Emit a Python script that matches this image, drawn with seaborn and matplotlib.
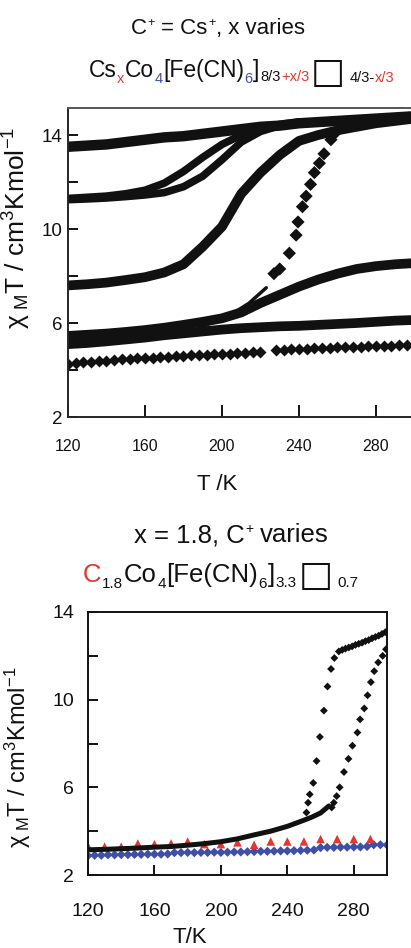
import numpy as np
import pandas as pd
import matplotlib
matplotlib.use("Agg")
import matplotlib.pyplot as plt
import seaborn as sns
from matplotlib import font_manager as fm


def has_font(name):
    try:
        fm.findfont(fm.FontProperties(family=name), fallback_to_default=False)
        return True
    except Exception:
        return False


NARROW = "Liberation Sans Narrow" if has_font("Liberation Sans Narrow") else "Liberation Sans"
REG = "Liberation Sans"

# ---------------- data: top panel (Cs_x, x varies) ----------------
T10 = [120, 130, 140, 150, 160, 170, 180, 190, 200, 210, 220, 230, 240, 250, 260, 270, 280, 290, 300]
curve_a = [13.5, 13.55, 13.6, 13.7, 13.8, 13.9, 13.95, 14.05, 14.15, 14.25, 14.35, 14.4, 14.5, 14.55,
           14.6, 14.65, 14.7, 14.75, 14.8]
T_b = [120, 130, 140, 150, 160, 170, 180, 190, 200, 210, 220, 230, 240]
curve_b_up = [11.3, 11.35, 11.4, 11.5, 11.65, 11.95, 12.45, 13.05, 13.6, 14.0, 14.3, 14.45, 14.55]
curve_b_dn = [11.25, 11.28, 11.32, 11.38, 11.45, 11.55, 11.8, 12.25, 12.95, 13.7, 14.15, 14.4, 14.55]
curve_c = [7.6, 7.65, 7.72, 7.83, 7.95, 8.15, 8.5, 9.25, 10.1, 11.5, 12.4, 13.15, 13.75, 14.0, 14.2,
           14.35, 14.5, 14.6, 14.7]
T_d_low = [190, 197, 205.5, 214, 223]
curve_d_low = [5.85, 6.1, 6.4, 6.84, 7.5]
T_d_high = [227, 230, 235, 238.5, 239.5, 241.8, 243.7, 246, 248, 250.6, 253, 256.6, 259]
curve_d_high = [8.1, 8.3, 8.97, 9.74, 10.3, 10.95, 11.4, 11.9, 12.4, 12.8, 13.2, 13.8, 14.1]
curve_e = [5.45, 5.5, 5.55, 5.62, 5.7, 5.8, 5.92, 6.05, 6.2, 6.45, 6.85, 7.2, 7.55, 7.85, 8.1, 8.3,
           8.42, 8.5, 8.55]
curve_f = [5.1, 5.15, 5.22, 5.3, 5.38, 5.48, 5.56, 5.64, 5.72, 5.78, 5.82, 5.86, 5.88, 5.92, 5.96,
           6.0, 6.05, 6.1, 6.13]
T_g1 = [120, 124, 128, 132, 136, 140, 144, 148, 152, 156, 160, 164, 168, 172, 176, 180, 184, 188,
        192, 196, 200, 204, 208, 212, 216, 220]
curve_g1 = [4.25, 4.3, 4.33, 4.35, 4.38, 4.4, 4.42, 4.45, 4.47, 4.5, 4.52, 4.53, 4.55, 4.57, 4.58,
            4.6, 4.62, 4.63, 4.65, 4.66, 4.68, 4.7, 4.71, 4.73, 4.75, 4.77]
T_g2 = [228, 232, 236, 240, 244, 248, 252, 256, 260, 264, 268, 272, 276, 280, 284, 288, 292, 296]
curve_g2 = [4.85, 4.86, 4.88, 4.89, 4.9, 4.92, 4.93, 4.95, 4.96, 4.97, 4.98, 5.0, 5.01, 5.02, 5.03,
            5.04, 5.05, 5.06]

# ---------------- data: bottom panel (x = 1.8, C varies) ----------------
T_k_low = [120, 130, 140, 150, 160, 170, 180, 190, 200, 210, 220, 230, 240, 250, 255, 260, 265]
k_low = [3.15, 3.17, 3.2, 3.23, 3.27, 3.3, 3.36, 3.43, 3.52, 3.65, 3.83, 4.0, 4.22, 4.5, 4.65, 4.83, 5.15]
T_k_cool = [251.5, 252.5, 253.5, 255.6, 257.6, 259.6, 262, 264.2, 266.3, 268.3, 271, 273, 275, 277,
            279, 281, 283, 285, 287, 289, 291, 293, 295, 297, 299]
k_cool = [4.85, 5.3, 5.68, 6.2, 7.2, 8.3, 9.5, 10.6, 11.4, 11.9, 12.2, 12.27, 12.33, 12.38, 12.43,
          12.5, 12.55, 12.6, 12.67, 12.72, 12.8, 12.86, 12.92, 13.0, 13.08]
T_k_heat = [266.7, 268, 269.7, 271.5, 274.1, 276.8, 279.2, 282.2, 283.8, 286.3, 288.3, 290.3, 292.3,
            294.7, 297.4, 299.4]
k_heat = [5.08, 5.3, 5.6, 6.0, 6.7, 7.3, 7.9, 8.5, 9.1, 9.6, 10.2, 10.8, 11.3, 11.7, 12.0, 12.3]
T_red = [120, 130, 140, 150, 160, 170, 180, 190, 200, 210, 220, 230, 240, 250, 260, 270, 280, 290]
red_vals = [3.33, 3.29, 3.29, 3.44, 3.41, 3.44, 3.53, 3.41, 3.41, 3.49, 3.38, 3.53, 3.53, 3.53, 3.64,
            3.64, 3.64, 3.64]
T_blue = [120, 124, 128, 132, 136, 140, 144, 148, 152, 156, 160, 164, 168, 172, 176, 180, 184, 188,
          192, 196, 200, 204, 208, 212, 216, 220, 224, 228, 232, 236, 240, 244, 248, 252, 256, 260,
          264, 268, 272, 276, 280, 284, 288, 292, 296, 300]
blue_vals = [2.88, 2.9, 2.9, 2.92, 2.92, 2.93, 2.93, 2.94, 2.94, 2.95, 2.95, 2.95, 2.96, 3.02, 3.02,
             3.03, 3.02, 3.03, 3.03, 3.04, 3.03, 3.04, 3.05, 3.05, 3.06, 3.07, 3.08, 3.08, 3.09, 3.1,
             3.1, 3.11, 3.12, 3.13, 3.14, 3.25, 3.26, 3.26, 3.27, 3.27, 3.28, 3.28, 3.3, 3.38, 3.38,
             3.37]

xticks = [120, 160, 200, 240, 280]
yticks = [2, 4, 6, 8, 10, 12, 14]
ytick_labels = ["2", "", "6", "", "10", "", "14"]

RED = "#e3372f"
BLUE = "#3f4fa6"
K = "#111111"

# ---------------- figure ----------------
sns.set_style("ticks")
plt.rcParams["font.family"] = [REG, "DejaVu Sans"]
plt.rcParams["mathtext.fontset"] = "custom"
plt.rcParams["mathtext.rm"] = REG
plt.rcParams["mathtext.it"] = REG + ":italic"
plt.rcParams["mathtext.bf"] = REG + ":bold"

W, H = 411, 948
fig = plt.figure(figsize=(W / 100, H / 100), dpi=100)
fig.patch.set_facecolor("white")


def ax_rect(l, r, t, b):
    return [l / W, 1 - b / H, (r - l) / W, (b - t) / H]


ax1 = fig.add_axes(ax_rect(68, 411, 108, 417))
ax2 = fig.add_axes(ax_rect(88, 387, 612, 875))

YLABEL = r"$\mathrm{\chi}_{\ \rm M}\mathrm{T\ /\ cm^3Kmol^{-1}}$"

# ---- top panel ----
df_top = pd.DataFrame({"T": T10, "a": curve_a, "c": curve_c, "e": curve_e, "f": curve_f})
df_b = pd.DataFrame({"T": T_b, "up": curve_b_up, "dn": curve_b_dn})
sns.lineplot(data=df_top, x="T", y="a", ax=ax1, color=K, lw=7.5, estimator=None, sort=False)
sns.lineplot(data=df_b, x="T", y="up", ax=ax1, color=K, lw=5.5, estimator=None, sort=False)
sns.lineplot(data=df_b, x="T", y="dn", ax=ax1, color=K, lw=5.5, estimator=None, sort=False)
sns.lineplot(data=df_top, x="T", y="c", ax=ax1, color=K, lw=7, estimator=None, sort=False)
sns.lineplot(data=df_top, x="T", y="e", ax=ax1, color=K, lw=7, estimator=None, sort=False)
sns.lineplot(data=df_top, x="T", y="f", ax=ax1, color=K, lw=7, estimator=None, sort=False)
sns.lineplot(x=T_d_low, y=curve_d_low, ax=ax1, color=K, lw=2.5, estimator=None, sort=False)
sns.scatterplot(x=T_d_high, y=curve_d_high, ax=ax1, color=K, marker="D", s=45, edgecolor="none")
sns.lineplot(x=T_g1, y=curve_g1, ax=ax1, color=K, lw=1.5, marker="D", markersize=6,
             markeredgecolor="none", estimator=None, sort=False)
sns.lineplot(x=T_g2, y=curve_g2, ax=ax1, color=K, lw=1.5, marker="D", markersize=6,
             markeredgecolor="none", estimator=None, sort=False)

ax1.set_xlim(120, 298.2)
ax1.set_ylim(2, 15.15)
ax1.set_xticks(xticks)
ax1.set_yticks(yticks)
ax1.set_yticklabels(ytick_labels)
ax1.spines["right"].set_visible(False)
ax1.spines["top"].set_color("#555555")
for s in ["left", "bottom", "top"]:
    ax1.spines[s].set_linewidth(1.4)
ax1.tick_params(axis="x", direction="in", length=9, width=1.4, pad=16, labelsize=11.5,
                labelfontfamily=NARROW, colors=K)
ax1.tick_params(axis="y", direction="in", length=7, width=1.4, pad=4, labelsize=13.5,
                labelfontfamily=NARROW, colors=K)
ax1.set_xlabel("")
ax1.set_ylabel(YLABEL, fontsize=19, color=K)
ax1.yaxis.set_label_coords((33 - 68) / 343, (417 - 228) / 309)
fig.text(217 / W, 1 - 490 / H, "T /K", fontsize=16, family=NARROW, color=K,
         ha="center", va="baseline")

# ---- bottom panel ----
sns.lineplot(x=T_k_low, y=k_low, ax=ax2, color=K, lw=3.6, estimator=None, sort=False)
sns.scatterplot(x=T_k_cool, y=k_cool, ax=ax2, color=K, marker="D", s=16, edgecolor="none")
sns.scatterplot(x=T_k_heat, y=k_heat, ax=ax2, color=K, marker="D", s=16, edgecolor="none")
sns.scatterplot(x=T_blue, y=blue_vals, ax=ax2, color=BLUE, marker="D", s=22, edgecolor="none")
sns.scatterplot(x=T_red, y=red_vals, ax=ax2, color=RED, marker="^", s=38, edgecolor="none")

ax2.set_xlim(120, 300)
ax2.set_ylim(2, 14)
ax2.set_xticks(xticks)
ax2.set_yticks(yticks)
ax2.set_yticklabels(ytick_labels)
for s in ["left", "bottom", "top", "right"]:
    ax2.spines[s].set_visible(True)
    ax2.spines[s].set_linewidth(1.4)
    ax2.spines[s].set_color(K)
ax2.tick_params(axis="x", direction="in", length=7, width=1.4, pad=20, labelsize=14, colors=K)
ax2.tick_params(axis="y", direction="in", length=7, width=1.4, pad=10, labelsize=14, colors=K)
ax2.set_xlabel("")
ax2.set_ylabel(YLABEL, fontsize=17, color=K)
ax2.yaxis.set_label_coords((33 - 88) / 299, (875 - 757) / 263)
fig.text(190 / W, 1 - 943 / H, "T/K", fontsize=16, color=K, ha="center", va="baseline")


# ---------------- titles as rich text pieces ----------------
def rich(x_center, y_base, pieces):
    r = fig.canvas.get_renderer()
    items = []
    x = 0.0
    for p in pieces:
        if isinstance(p, (int, float)):
            x += p
            continue
        s, color, size, dy, fam = p
        t = fig.text(0, 0, s, color=color, fontsize=size, family=fam, ha="left", va="baseline")
        w = t.get_window_extent(r).width
        items.append((t, x, dy))
        x += w + 0.5
    x0 = x_center - x / 2
    for t, xo, dy in items:
        t.set_position(((x0 + xo) / W, 1 - (y_base + dy) / H))


fam = [NARROW, "DejaVu Sans"]
box = ["DejaVu Sans"]
rich(218, 34, [("C", K, 16, 0, fam), ("+", K, 9, -8, fam), 6, ("= Cs", K, 16, 0, fam),
               ("+", K, 9, -8, fam), (", x varies", K, 16, 0, fam)])
rich(242, 77, [("Cs", K, 16.5, 0, fam), ("x", RED, 10.5, 6, fam), ("Co", K, 16.5, 0, fam),
               ("4", BLUE, 10.5, 6, fam), ("[Fe(CN)", K, 16.5, 0, fam), ("6", BLUE, 10.5, 6, fam),
               ("]", K, 16.5, 0, fam), ("8/3", K, 10.5, 4, fam), ("+x/3", RED, 10.5, 4, fam), 1,
               ("\u25a1", K, 26, 6, box), 4, ("4/3-", K, 10.5, 5, fam), ("x/3", RED, 10.5, 5, fam)])
rich(232, 542, [("x = 1.8, C", K, 18.5, 0, fam), ("+", K, 10, -9, fam), 6, ("varies", K, 18.5, 0, fam)])
rich(221, 582, [("C", RED, 18.5, 0, fam), ("1.8", K, 11, 6, fam), ("Co", K, 18.5, 0, fam),
                ("4", K, 11, 6, fam), ("[Fe(CN)", K, 18.5, 0, fam), ("6", K, 11, 6, fam),
                ("]", K, 18.5, 0, fam), ("3.3", K, 11, 5, fam), 2, ("\u25a1", K, 26, 4, box), 4,
                ("0.7", K, 11, 5, fam)])

fig.savefig("out.png", dpi=100)
